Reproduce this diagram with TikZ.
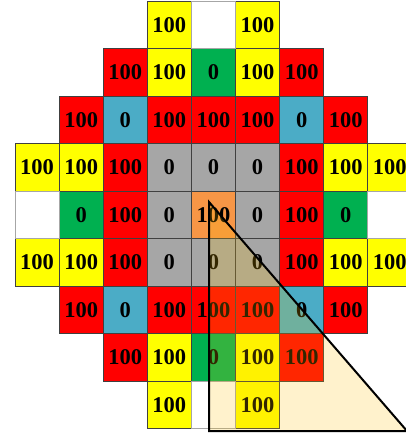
\documentclass[tikz,border=0pt]{standalone}
\usepackage{fontspec}
\setmainfont{Liberation Serif}
\definecolor{cY}{HTML}{FFFF00}
\definecolor{cR}{HTML}{FF0000}
\definecolor{cG}{HTML}{00B050}
\definecolor{cB}{HTML}{4BACC6}
\definecolor{cS}{HTML}{A6A6A6}
\definecolor{cO}{HTML}{F79646}
\definecolor{cW}{HTML}{FFFFFF}
\definecolor{edgedark}{HTML}{404040}
\definecolor{edgelight}{HTML}{A6A6A6}
\definecolor{wedge}{HTML}{FFC000}
\tikzset{
  cellbox/.style={draw=edgedark, line width=0.9pt, fill=#1, minimum width=44.1pt, minimum height=47.5pt,
    inner sep=0pt, anchor=center, font=\fontsize{22.5}{26}\selectfont\bfseries},
  whitebox/.style={cellbox=cW, draw=edgelight},
  wedgeshape/.style={draw=black, line width=2pt, fill=wedge, fill opacity=0.2, line join=miter}
}
\begin{document}
\begin{tikzpicture}[x=1pt,y=-1pt]
\useasboundingbox (0,0) rectangle (405,434);
\foreach \r/\c/\col/\t in {
 0/3/cY/100, 0/5/cY/100,
 1/2/cR/100, 1/3/cY/100, 1/4/cG/0, 1/5/cY/100, 1/6/cR/100,
 2/1/cR/100, 2/2/cB/0, 2/3/cR/100, 2/4/cR/100, 2/5/cR/100, 2/6/cB/0, 2/7/cR/100,
 3/0/cY/100, 3/1/cY/100, 3/2/cR/100, 3/3/cS/0, 3/4/cS/0, 3/5/cS/0, 3/6/cR/100, 3/7/cY/100, 3/8/cY/100,
 4/1/cG/0, 4/2/cR/100, 4/3/cS/0, 4/4/cO/100, 4/5/cS/0, 4/6/cR/100, 4/7/cG/0,
 5/0/cY/100, 5/1/cY/100, 5/2/cR/100, 5/3/cS/0, 5/4/cS/0, 5/5/cS/0, 5/6/cR/100, 5/7/cY/100, 5/8/cY/100,
 6/1/cR/100, 6/2/cB/0, 6/3/cR/100, 6/4/cR/100, 6/5/cR/100, 6/6/cB/0, 6/7/cR/100,
 7/2/cR/100, 7/3/cY/100, 7/4/cG/0, 7/5/cY/100, 7/6/cR/100,
 8/3/cY/100, 8/5/cY/100}
 {\node[cellbox=\col] (c\r-\c) at ({15+44.1*(\c+0.5)},{1+47.5*(\r+0.5)}) {\t};}
\foreach \r/\c in {0/4, 4/0, 4/8, 8/4}
 {\node[whitebox] (c\r-\c) at ({15+44.1*(\c+0.5)},{1+47.5*(\r+0.5)}) {};}
\coordinate (tA) at (209,202);
\coordinate (tB) at (209,431);
\coordinate (tC) at (407,431);
\draw[wedgeshape] (tA) -- (tB) -- (tC) -- cycle;
\end{tikzpicture}
\end{document}
